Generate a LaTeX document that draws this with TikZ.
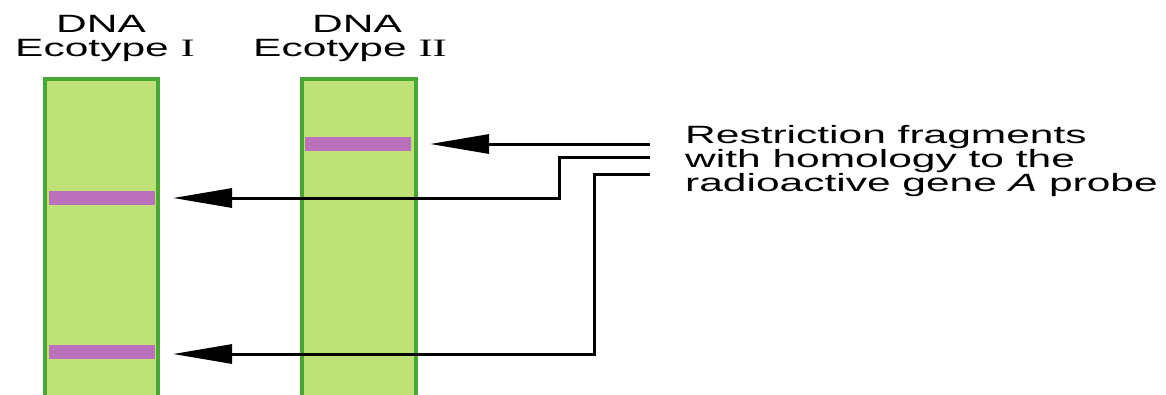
\documentclass[tikz,border=0pt]{standalone}
\usepackage{fontspec}
\setmainfont{Liberation Sans}
\newfontfamily\romnum{Liberation Serif}
\usetikzlibrary{arrows.meta}
\definecolor{lanefill}{RGB}{190,226,120}
\definecolor{laneedge}{RGB}{72,168,52}
\definecolor{bandcol}{RGB}{186,112,186}
\tikzset{
  lane/.style={fill=lanefill,draw=laneedge,line width=4pt},
  band/.style={fill=bandcol,draw=none,inner sep=0pt,minimum height=14pt,minimum width=106pt},
  conn/.style={draw=black,line width=3pt,-{Triangle[length=59pt,width=19pt]}},
  lbl/.style={font=\fontsize{25}{26}\selectfont,inner sep=0pt,align=center},
}
\newcommand{\wide}[1]{\scalebox{1.7}[1]{#1}}
\begin{document}
\begin{tikzpicture}[x=1pt,y=-1pt]
\useasboundingbox (0,0) rectangle (1166,394);
\clip (0,0) rectangle (1166,394);
% lanes
\draw[lane] (45,79) rectangle (158,420);
\draw[lane] (302,79) rectangle (416,420);
% bands
\node[band] (b2) at (357.5,144) {};
\node[band] (b1a) at (101.5,198) {};
\node[band] (b1b) at (101.5,352) {};
% titles
\node[lbl,anchor=base] (t1a) at (101,32) {\wide{DNA}};
\node[lbl,anchor=base] (t1b) at (105,56) {\wide{Ecotype {\romnum I}}};
\node[lbl,anchor=base] (t2a) at (357,32) {\wide{DNA}};
\node[lbl,anchor=base] (t2b) at (350,56) {\wide{Ecotype {\romnum II}}};
% right label
\node[lbl,anchor=base west] (r1) at (685,143) {\wide{Restriction fragments}};
\node[lbl,anchor=base west] (r2) at (685,167) {\wide{with homology to the}};
\node[lbl,anchor=base west] (r3) at (685,191) {\wide{radioactive gene \textit{A} probe}};
% connector starts
\coordinate (s1) at (650,144);
\coordinate (s2) at (650,157);
\coordinate (s3) at (650,174);
\coordinate (e1) at (430,144);
\coordinate (e2) at (173,198);
\coordinate (e3) at (173,354);
\draw[conn] (s1) -- (e1);
\draw[conn] (s2) -- (559,157) -- (559,198) -- (e2);
\draw[conn] (s3) -- (594,174) -- (594,354) -- (e3);
\end{tikzpicture}
\end{document}
